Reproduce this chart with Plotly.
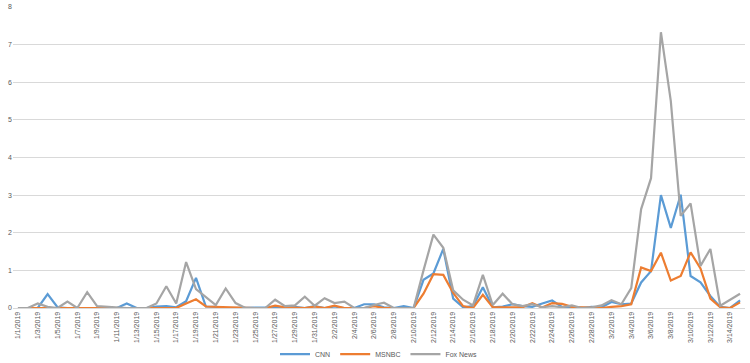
import pandas as pd
import plotly.graph_objects as go

dates = [f"{d.month}/{d.day}/{d.year}" for d in pd.date_range("2019-01-01", "2019-03-15")]

cnn = [0, 0, 0, 0.37, 0.02, 0, 0, 0, 0, 0,
       0, 0.12, 0, 0, 0.04, 0.05, 0.02, 0.18, 0.8, 0.04,
       0.03, 0, 0, 0, 0, 0, 0.02, 0.03, 0.03, 0,
       0.05, 0, 0.04, 0, 0, 0.1, 0.1, 0.02, 0, 0.05,
       0, 0.75, 0.92, 1.57, 0.25, 0.02, 0.05, 0.55, 0.02, 0.04,
       0.1, 0.05, 0.03, 0.12, 0.2, 0.03, 0, 0, 0.03, 0.02,
       0.16, 0.1, 0.12, 0.68, 0.98, 3.0, 2.13, 3.01, 0.85, 0.68,
       0.32, 0.03, 0, 0.2]

msnbc = [0, 0, 0, 0, 0, 0, 0, 0, 0, 0,
         0, 0, 0, 0, 0, 0, 0, 0.12, 0.23, 0.04,
         0.03, 0.01, 0.02, 0, 0, 0, 0.06, 0.02, 0, 0,
         0.04, 0, 0.06, 0, 0, 0, 0.05, 0, 0, 0,
         0, 0.38, 0.9, 0.88, 0.4, 0.05, 0, 0.35, 0.02, 0.02,
         0.02, 0.02, 0.13, 0.01, 0.13, 0.11, 0.03, 0.02, 0, 0,
         0.03, 0.05, 0.1, 1.08, 0.98, 1.47, 0.73, 0.85, 1.48, 1.05,
         0.25, 0.02, 0, 0.15]

fox = [0, 0, 0.12, 0.03, 0, 0.17, 0, 0.42, 0.05, 0.03,
       0, 0, 0, 0, 0.12, 0.58, 0.12, 1.22, 0.5, 0.3,
       0.08, 0.52, 0.13, 0, 0, 0, 0.22, 0.05, 0.07, 0.3,
       0.06, 0.26, 0.13, 0.17, 0, 0, 0.08, 0.14, 0, 0,
       0, 1.0, 1.95, 1.6, 0.47, 0.22, 0.07, 0.88, 0.08, 0.38,
       0.1, 0.05, 0.1, 0.02, 0.05, 0.02, 0.07, 0, 0.02, 0.07,
       0.21, 0.1, 0.53, 2.63, 3.45, 7.33, 5.5, 2.45, 2.78, 1.12,
       1.57, 0.06, 0.22, 0.38]

series = [("CNN", cnn, "#5B9BD5"), ("MSNBC", msnbc, "#ED7D31"), ("Fox News", fox, "#A5A5A5")]
yticks = [0, 1, 2, 3, 4, 5, 6, 7, 8]

fig = go.Figure()
for name, vals, col in series:
    fig.add_trace(go.Scatter(x=dates, y=vals, name=name, mode="lines",
                             line=dict(color=col, width=2.2)))

font_fam = "Liberation Sans, Arial, sans-serif"
fig.update_layout(
    width=750, height=363,
    margin=dict(l=13, r=5, t=7, b=55, autoexpand=False),
    paper_bgcolor="white", plot_bgcolor="white",
    showlegend=True,
    legend=dict(orientation="h", x=0.5, xanchor="center", y=-0.153, yanchor="middle",
                font=dict(size=7, color="#595959", family=font_fam),
                itemwidth=30, tracegroupgap=0, bgcolor="rgba(0,0,0,0)"),
    xaxis=dict(type="category", range=[-0.5, len(dates) - 0.5], automargin=False,
               tickmode="array", tickvals=dates[::2], ticktext=dates[::2],
               tickangle=-90, tickfont=dict(size=7, color="#595959", family=font_fam),
               showgrid=False, showline=True, linecolor="#d9d9d9", linewidth=1,
               ticks="", zeroline=False),
    yaxis=dict(range=[0, 8], tickvals=yticks, showgrid=True, gridcolor="#d9d9d9",
               gridwidth=1, zeroline=False, showline=False, ticks="", automargin=False,
               tickfont=dict(size=7, color="#595959", family=font_fam)),
)

fig.write_html("out.html", config={"displayModeBar": False},
               post_script="document.body.style.margin='0';document.body.style.overflow='hidden';")
